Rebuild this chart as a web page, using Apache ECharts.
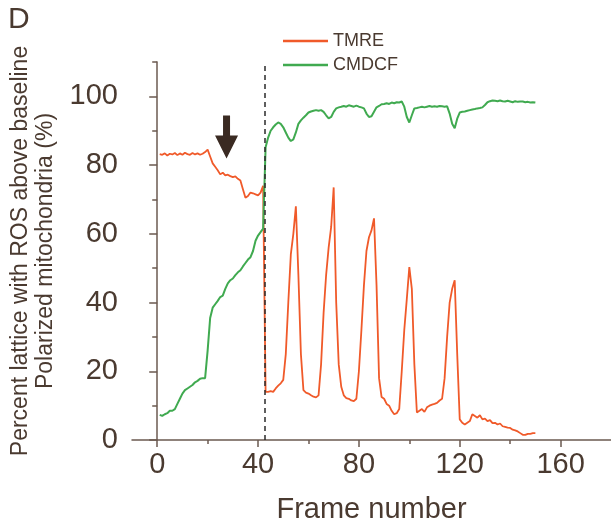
<!DOCTYPE html>
<html>
<head>
<meta charset="utf-8">
<script src="https://cdn.jsdelivr.net/npm/echarts@6/dist/echarts.min.js"></script>
<style>html,body{margin:0;padding:0;background:#fff}#c{width:611px;height:525px}</style>
</head>
<body>
<div id="c"></div>
<script>
const frames = [];
for (let i = 1; i <= 150; i++) frames.push(i);

const tmre = [
  83.2, 83.0, 83.4, 82.8, 83.3, 83.1, 83.5, 82.9, 83.4, 83.0,
  83.6, 83.2, 83.0, 83.5, 83.1, 83.4, 83.0, 83.3, 83.8, 84.5,
  82.5, 80.5, 79.5, 78.5, 77.3, 77.8, 77.0, 77.2, 76.8, 76.5,
  76.7, 76.0, 75.5, 73.0, 70.5, 71.0, 72.0, 71.8, 71.5, 71.2,
  72.0, 74.0, 14.0, 14.0, 14.2, 14.0, 15.0, 15.8, 16.5, 17.5,
  25.0, 40.0, 54.0, 60.0, 68.0, 48.0, 25.0, 14.5, 13.8, 13.5,
  13.0, 12.6, 12.4, 13.0, 22.0, 37.0, 48.0, 56.0, 62.0, 73.5,
  40.0, 22.0, 15.5, 13.0, 12.2, 12.0, 11.5, 11.3, 12.0, 20.0,
  32.0, 45.0, 55.0, 59.0, 61.0, 64.5, 45.0, 18.0, 12.5, 12.0,
  10.5, 10.0, 8.5, 7.5, 7.8, 9.0, 20.0, 32.0, 41.0, 50.3,
  44.0, 22.0, 8.0, 8.5, 9.0, 8.2, 9.5, 10.0, 10.3, 10.5,
  10.8, 11.5, 12.0, 18.0, 30.0, 40.0, 44.0, 46.5, 25.0, 6.0,
  5.0, 4.5, 5.0, 5.5, 7.5, 7.0, 6.5, 7.2, 6.0, 6.2,
  5.5, 5.8, 4.9, 5.0, 4.5, 4.8, 4.0, 3.8, 3.6, 3.5,
  3.0, 2.8, 2.5, 2.0, 1.5, 1.5, 1.8, 1.8, 2.0, 2.0
];

const cmdcf = [
  7.3, 7.0, 7.5, 7.8, 8.5, 8.5, 9.0, 10.5, 12.0, 13.5,
  14.5, 15.0, 15.5, 16.0, 16.8, 17.2, 17.8, 18.0, 18.0, 26.0,
  35.5, 38.5, 39.5, 40.5, 41.6, 42.0, 44.0, 45.6, 46.5, 47.0,
  48.0, 48.8, 49.4, 50.5, 51.5, 52.5, 53.2, 55.0, 58.0, 59.5,
  60.5, 61.5, 85.2, 88.0, 90.0, 91.0, 91.8, 92.4, 92.0, 91.0,
  89.5, 88.0, 87.0, 87.5, 89.5, 92.0, 93.0, 93.8, 94.5, 95.3,
  95.6, 95.8, 96.0, 95.8, 96.0, 95.5, 94.5, 93.6, 94.0, 95.5,
  96.5, 96.8, 97.0, 97.2, 97.0, 97.4, 97.2, 97.0, 97.3, 97.0,
  96.8, 96.5, 95.0, 94.0, 94.2, 95.5, 96.8, 97.2, 97.7, 97.8,
  98.0, 97.8, 98.2, 98.0, 98.3, 98.2, 98.5, 97.0, 94.0, 92.4,
  94.5, 96.5, 96.6, 96.8, 97.0, 96.8, 97.0, 97.2, 97.0, 97.1,
  97.0, 97.2, 97.1, 97.0, 97.1, 95.0, 92.0, 90.7, 93.5, 95.3,
  95.5, 95.6, 95.8, 96.0, 96.2, 96.3, 96.5, 96.6, 96.8, 97.5,
  98.3, 98.6, 98.8, 98.7, 98.6, 98.8, 98.6, 98.5, 98.7, 98.5,
  98.3, 98.6, 98.4, 98.5, 98.5, 98.3, 98.4, 98.2, 98.3, 98.2
];

const xMajor = [0, 40, 80, 120, 160];
const xMinor = [20, 60, 100, 140];
const yMajor = [0, 20, 40, 60, 80, 100];
const yMinor = [10, 30, 50, 70, 90, 110];
const eventFrame = 42.5;
const arrowAt = [27.5, 88.2];

const textColor = '#4a3a30';
const axisColor = '#6b5a50';
const redC = '#f05a2a';
const greenC = '#40aa50';
const font = 'Liberation Sans, Arial, sans-serif';

const chart = echarts.init(document.getElementById('c'), null, {renderer: 'canvas'});
chart.setOption({
  animation: false,
  backgroundColor: '#fff',
  textStyle: {fontFamily: font},
  graphic: [{
    type: 'text', left: 8, top: 5,
    style: {text: 'D', fontSize: 30, fill: textColor, fontFamily: font}
  }],
  legend: {
    orient: 'vertical', left: 278, top: 26, itemWidth: 45, itemHeight: 2.5, itemGap: 4,
    icon: 'rect',
    textStyle: {fontSize: 18, color: textColor, fontFamily: font, lineHeight: 20},
    data: [
      {name: 'TMRE', itemStyle: {color: redC}},
      {name: 'CMDCF', itemStyle: {color: greenC}}
    ]
  },
  grid: {left: 132, right: 0, top: 62, bottom: 85, containLabel: false, outerBoundsMode: 'none'},
  xAxis: [{
    type: 'value', min: -10, max: 180,
    name: 'Frame number', nameLocation: 'middle', nameGap: 55,
    nameTextStyle: {fontSize: 29, color: textColor, fontFamily: font},
    axisLine: {show: true, onZero: false, lineStyle: {color: axisColor, width: 1.5}},
    axisTick: {show: true, inside: false, length: 7, customValues: xMajor, lineStyle: {color: axisColor, width: 1.5}},
    axisLabel: {customValues: xMajor, fontSize: 29, color: textColor, margin: 10, fontFamily: font},
    splitLine: {show: false}
  }, {
    type: 'value', min: -10, max: 180, position: 'bottom',
    axisLine: {show: false, onZero: false},
    axisTick: {show: true, inside: false, length: 4, customValues: xMinor, lineStyle: {color: axisColor, width: 1.5}},
    axisLabel: {show: false},
    splitLine: {show: false}
  }],
  yAxis: [{
    type: 'value', min: 0, max: 110,
    name: 'Percent lattice with ROS above baseline\nPolarized mitochondria (%)',
    nameLocation: 'middle', nameRotate: 90, nameGap: 74,
    nameTextStyle: {fontSize: 23, color: textColor, lineHeight: 25, fontFamily: font, align: 'center'},
    axisLine: {show: true, lineStyle: {color: axisColor, width: 1.5}},
    axisTick: {show: true, inside: false, length: 8, customValues: yMajor, lineStyle: {color: axisColor, width: 1.5}},
    axisLabel: {customValues: yMajor, fontSize: 29, color: textColor, margin: 14, fontFamily: font},
    splitLine: {show: false}
  }, {
    type: 'value', min: 0, max: 110, position: 'left',
    axisLine: {show: false},
    axisTick: {show: true, inside: false, length: 5, customValues: yMinor, lineStyle: {color: axisColor, width: 1.5}},
    axisLabel: {show: false},
    splitLine: {show: false}
  }],
  series: [
    {
      name: 'TMRE', type: 'line', symbol: 'none', z: 3,
      data: frames.map((f, i) => [f, tmre[i]]),
      lineStyle: {color: redC, width: 1.8},
      itemStyle: {color: redC},
      markLine: {
        silent: true, symbol: ['none', 'none'], label: {show: false},
        lineStyle: {color: '#2a2a2a', type: [5, 4], width: 1.5},
        data: [{xAxis: eventFrame}]
      },
      markPoint: {
        silent: true,
        data: [{
          coord: arrowAt,
          symbol: 'path://M8,0 L15,0 L15,20 L23,20 L11.5,43 L0,20 L8,20 Z',
          symbolSize: [23, 43],
          itemStyle: {color: '#3a2a22'},
          label: {show: false}
        }]
      }
    },
    {
      name: 'CMDCF', type: 'line', symbol: 'none', z: 4,
      data: frames.map((f, i) => [f, cmdcf[i]]),
      lineStyle: {color: greenC, width: 2},
      itemStyle: {color: greenC}
    }
  ]
});
</script>
</body>
</html>
